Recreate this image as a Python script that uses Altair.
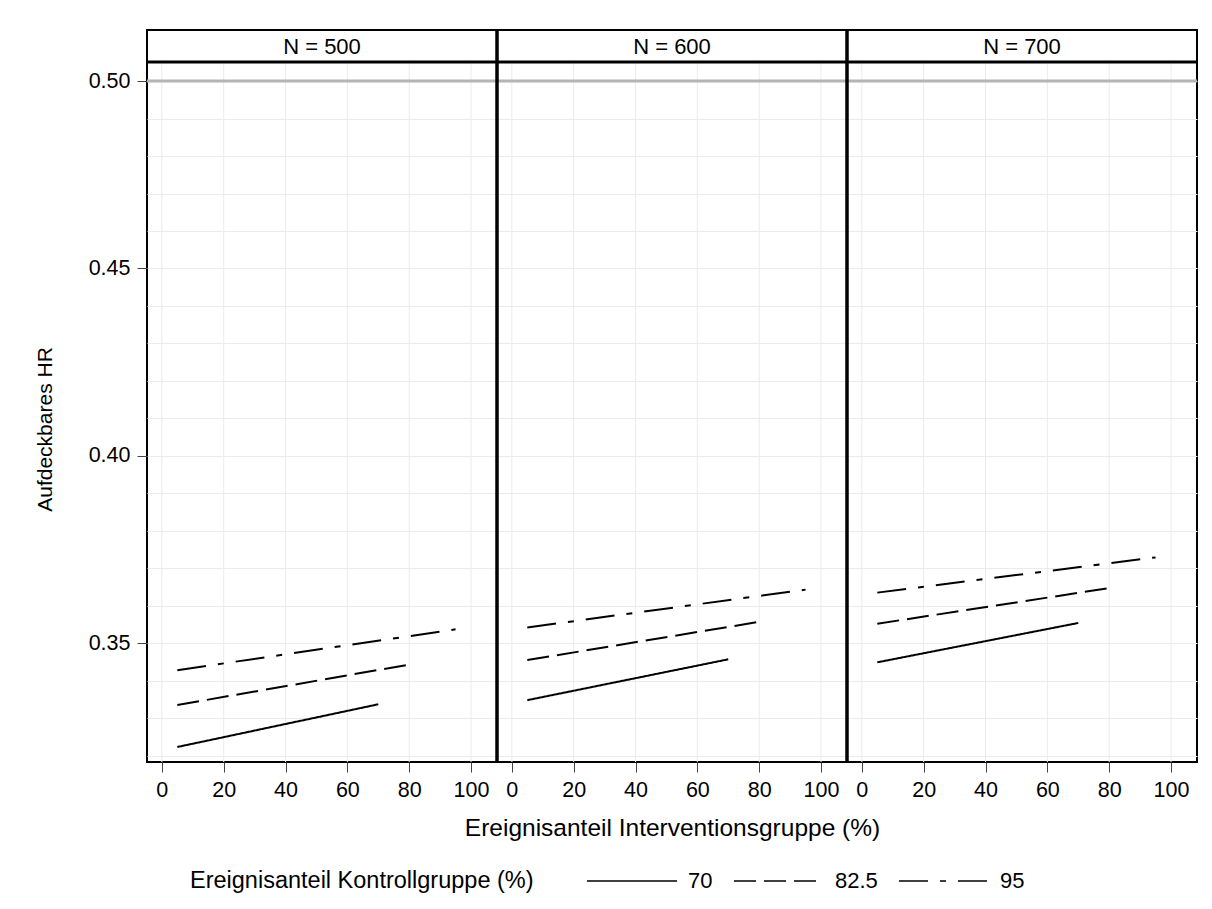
import altair as alt
import pandas as pd

FONT = "Liberation Sans"

panels = ["N = 500", "N = 600", "N = 700"]
control_groups = ["70", "82.5", "95"]
x_start = [5, 5, 5]
x_end = [70, 80, 95]
hr_start = {
    "N = 500": [0.3223, 0.3335, 0.3428],
    "N = 600": [0.3348, 0.3455, 0.3542],
    "N = 700": [0.3449, 0.3552, 0.3635],
}
hr_end = {
    "N = 500": [0.3337, 0.3443, 0.3537],
    "N = 600": [0.3457, 0.3557, 0.3643],
    "N = 700": [0.3554, 0.3647, 0.3729],
}
reference_hr = [0.50]
x_ticks = [0, 20, 40, 60, 80, 100]
y_ticks = [0.35, 0.40, 0.45, 0.50]
y_grid = [0.32, 0.33, 0.34, 0.35, 0.36, 0.37, 0.38, 0.39, 0.40, 0.41,
          0.42, 0.43, 0.44, 0.45, 0.46, 0.47, 0.48, 0.49, 0.50]
dash_styles = [[1, 0], [22, 8], [29, 12, 6, 12]]

x_domain = [-4.8, 108.4]
y_domain = [0.3183, 0.5051]

W = 350          # panel width
HEAD = 32        # header strip height
PLOT_H = 700     # plot area height
H = HEAD + PLOT_H

label_list = "[" + ",".join("'%.2f'" % v for v in y_ticks) + "]"
is_major = "indexof(%s, format(datum.value, '.2f')) >= 0" % label_list

xs = alt.Scale(domain=x_domain, nice=False, zero=False)
ys = alt.Scale(domain=y_domain, nice=False, zero=False, range=[H, HEAD])

grid_df = pd.DataFrame({"x": x_ticks})

panel_charts = []
for i, name in enumerate(panels):
    rows = []
    for cg, x0, x1, y0, y1 in zip(control_groups, x_start, x_end, hr_start[name], hr_end[name]):
        rows.append({"x": x0, "hr": y0, "cg": cg})
        rows.append({"x": x1, "hr": y1, "cg": cg})
    df = pd.DataFrame(rows)

    if i == 0:
        yaxis = alt.Axis(values=y_grid, title="Aufdeckbares HR",
                         labelExpr="%s ? format(datum.value, '.2f') : ''" % is_major,
                         tickOpacity={"condition": {"test": is_major, "value": 1}, "value": 0},
                         domain=False, titlePadding=33, titleFontSize=21, titleY=399)
    else:
        yaxis = alt.Axis(values=y_grid, title=None, labels=False, ticks=False, domain=False,
                         tickSize=0, labelPadding=0, minExtent=0, maxExtent=0)
    xaxis = alt.Axis(values=x_ticks, domain=False, grid=False,
                     title="Ereignisanteil Interventionsgruppe (%)" if i == 1 else None)

    xgrid = alt.Chart(grid_df).mark_rule(color="#ebebeb", strokeWidth=1).encode(
        x=alt.X("x:Q", scale=xs, axis=xaxis),
        y=alt.value(HEAD), y2=alt.value(H),
    )

    ref = alt.Chart(pd.DataFrame({"hr": reference_hr})).mark_rule(
        color="#b4b4b4", strokeWidth=3
    ).encode(y=alt.Y("hr:Q", scale=ys, axis=yaxis))

    lines = alt.Chart(df).mark_line(color="black", strokeWidth=2).encode(
        x=alt.X("x:Q", scale=xs, axis=xaxis),
        y=alt.Y("hr:Q", scale=ys, axis=yaxis),
        strokeDash=alt.StrokeDash(
            "cg:N",
            scale=alt.Scale(domain=control_groups, range=dash_styles),
            legend=alt.Legend(title="Ereignisanteil Kontrollgruppe (%)"),
        ),
        detail="cg:N",
    )

    head_line = alt.Chart(pd.DataFrame({"label": [name]})).mark_rule(
        color="black", strokeWidth=3
    ).encode(y=alt.value(HEAD))

    head_text = alt.Chart(pd.DataFrame({"label": [name]})).mark_text(
        font=FONT, fontSize=22, align="center", baseline="middle", color="black"
    ).encode(text="label:N", x=alt.value(W / 2), y=alt.value(HEAD / 2 + 1))

    layers = [xgrid, ref, lines, head_line, head_text]
    if i > 0:
        sep = alt.Chart(pd.DataFrame({"label": [name]})).mark_rule(
            color="black", strokeWidth=3.5
        ).encode(x=alt.value(0), y=alt.value(0), y2=alt.value(H))
        layers.append(sep)

    panel_charts.append(alt.layer(*layers).properties(width=W, height=H))

chart = alt.hconcat(*panel_charts, spacing=0, bounds="flush").resolve_scale(
    strokeDash="shared"
).properties(
    padding={"left": 25, "top": 19, "right": 0, "bottom": 0}
).configure(font=FONT).configure_view(
    stroke="black", strokeWidth=2
).configure_axis(
    labelFont=FONT, titleFont=FONT, labelFontSize=21.5, titleFontSize=24.5,
    labelColor="black", titleColor="black", titleFontWeight="normal",
    tickColor="#444", tickSize=10, tickWidth=1, labelPadding=7,
    gridColor="#ebebeb", gridWidth=1,
).configure_axisX(titlePadding=16).configure_legend(
    orient="none", legendX=43, legendY=840, direction="horizontal",
    titleOrient="left", titleFont=FONT, labelFont=FONT,
    titleFontSize=23.5, labelFontSize=22, titleFontWeight="normal",
    titleColor="black", labelColor="black", titlePadding=87, titleLimit=600,
    titleAnchor="middle", titleBaseline="middle",
    symbolType="M-5,0H5", symbolSize=324, symbolStrokeWidth=1.5,
    symbolStrokeColor="black", labelOffset=45, columnPadding=18,
)

chart.save("out.html", embed_options={"renderer": "svg", "actions": False})
